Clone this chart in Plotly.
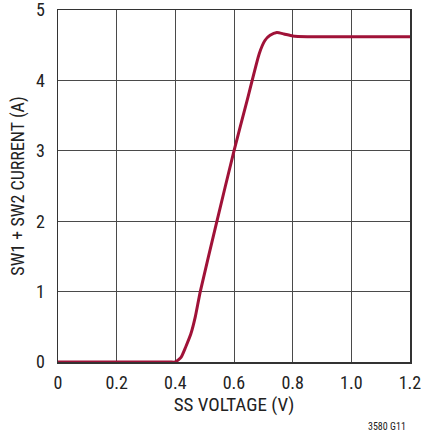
import plotly.graph_objects as go

ss_voltage = [0, 0.38, 0.40, 0.42, 0.435, 0.453, 0.468, 0.485, 0.54, 0.60, 0.645, 0.686, 0.706, 0.723, 0.746, 0.77, 0.80, 0.85, 1.2]
sw_current = [0, 0, 0, 0.07, 0.21, 0.40, 0.64, 1.0, 1.97, 3.0, 3.72, 4.38, 4.57, 4.64, 4.68, 4.66, 4.63, 4.62, 4.62]

x_ticks = [0, 0.2, 0.4, 0.6, 0.8, 1.0, 1.2]
x_tick_labels = ["0", "0.2", "0.4", "0.6", "0.8", "1.0", "1.2"]
y_ticks = [0, 1, 2, 3, 4, 5]

FONT = "Liberation Sans Narrow, Arial Narrow, Roboto Condensed, Liberation Sans, sans-serif"
CURVE = "#a01238"
GRID = "#4a4a4a"

fig = go.Figure()
fig.add_trace(go.Scatter(
    x=ss_voltage, y=sw_current, mode="lines",
    line=dict(color=CURVE, width=3, shape="spline", smoothing=0.5),
    hoverinfo="skip", showlegend=False, cliponaxis=False,
))

axis_common = dict(
    showgrid=True, gridcolor=GRID, gridwidth=1,
    showline=True, linecolor="#333333", linewidth=1.5, mirror=True,
    zeroline=False, ticks="", automargin=False, ticklabeloverflow="allow",
    tickfont=dict(family=FONT, size=18, color="#222222"),
)

fig.update_xaxes(
    range=[0, 1.2], tickvals=x_ticks, ticktext=x_tick_labels, ticklabelstandoff=4,
    title=dict(text="SS VOLTAGE (V)", font=dict(family=FONT, size=19, color="#222222"), standoff=4),
    **axis_common,
)
fig.update_yaxes(
    range=[0, 5], tickvals=y_ticks, ticklabelstandoff=8,
    title=dict(text="SW1 + SW2 CURRENT (A)", font=dict(family=FONT, size=18, color="#222222"), standoff=6),
    **axis_common,
)

fig.add_annotation(
    text="3580 G11", xref="paper", yref="paper", x=0.994, y=-0.183,
    xanchor="right", yanchor="middle", showarrow=False,
    font=dict(family=FONT, size=10, color="#222222"),
)

fig.update_layout(
    width=421, height=435,
    margin=dict(l=58, r=11, t=10, b=73, autoexpand=False),
    paper_bgcolor="white", plot_bgcolor="white",
)

fig.write_html(
    "out.html",
    config={"displayModeBar": False, "staticPlot": True},
    post_script="document.body.style.margin='0';document.body.style.overflow='hidden';",
)
